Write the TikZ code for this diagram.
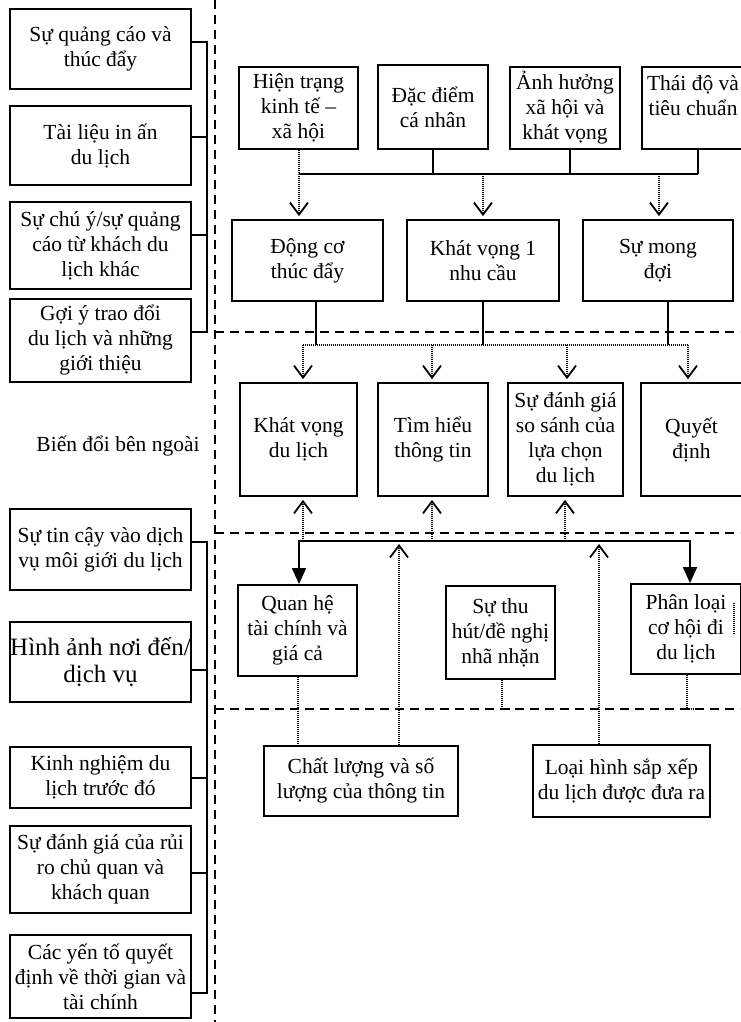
\documentclass[tikz,border=0pt]{standalone}
\usepackage{fontspec}
\setmainfont{Liberation Serif}
\usetikzlibrary{arrows.meta}
\begin{document}
\begin{tikzpicture}
[x=1pt,y=-1pt,
bx/.style 2 args={draw,line width=1.8pt,minimum width=#1,minimum height=#2,inner sep=0pt,align=center,font=\fontsize{21.5}{25}\selectfont},
ln/.style={line width=1.8pt},dt/.style={line width=1.4pt,dash pattern=on 1pt off 1pt},
ds/.style={line width=1.8pt,dash pattern=on 9pt off 6pt},
ov/.style={-{Straight Barb[length=12pt,width=18pt,line width=1.8pt]},shorten >=3pt},
tt/.style={{Triangle[length=16pt,width=14pt]}-{Triangle[length=16pt,width=14pt]}}]
\useasboundingbox (0,0) rectangle (740,1022);
% bien doi ben ngoai
\node(l1) at (100.5,49)[bx={181pt}{80pt}]{Sự quảng cáo và\\thúc đẩy};
\node(l2) at (100.5,145.5)[bx={181pt}{79pt}]{Tài liệu in ấn\\du lịch};
\node(l3) at (100.5,245.5)[bx={181pt}{87pt}]{Sự chú ý/sự quảng\\cáo từ khách du\\lịch khác};
\node(l4) at (100.5,340.5)[bx={181pt}{83pt}]{Gợi ý trao đổi\\du lịch và những\\giới thiệu};
\node(t) at (118,446)[font=\fontsize{21.5}{25}\selectfont]{Biến đổi bên ngoài};
\node(l5) at (100.5,549.5)[bx={181pt}{81pt}]{Sự tin cậy vào dịch\\vụ môi giới du lịch};
\node(l6) at (100.5,662)[bx={181pt}{80pt},font=\fontsize{25}{27}\selectfont]{Hình ảnh nơi đến/\\dịch vụ};
\node(l7) at (100.5,777.5)[bx={181pt}{61pt}]{Kinh nghiệm du\\lịch trước đó};
\node(l8) at (100.5,869.5)[bx={181pt}{87pt}]{Sự đánh giá của rủi\\ro chủ quan và\\khách quan};
\node(l9) at (100.5,976.5)[bx={181pt}{83pt}]{Các yến tố quyết\\định về thời gian và\\tài chính};
\draw[ln](l1.east|-0,42)-|(207,332)--(l4.east|-0,332);\draw[ln](l2.east|-0,137)--(207,137);\draw[ln](l3.east|-0,235)--(207,235);
\draw[ln](l5.east|-0,542)-|(207,993)--(l9.east|-0,993);\draw[ln](l6.east|-0,670)--(207,670);
\draw[ln](l7.east|-0,778)--(207,778);\draw[ln](l8.east|-0,873)--(207,873);
% vach ngan
\draw[ds](215,0)--(215,1022);\draw[ds](215,332)--(740,332);\draw[ds](215,533)--(740,533);\draw[ds](215,709)--(740,709);
% tam ly
\node(a) at (298.5,108)[bx={119pt}{82pt}]{Hiện trạng\\kinh tế –\\xã hội};
\node(b) at (433,107)[bx={110pt}{84pt}]{Đặc điểm\\cá nhân};
\node(c) at (565,108)[bx={110pt}{82pt}]{Ảnh hưởng\\xã hội và\\khát vọng};
\node(d) at (693,108)[bx={102pt}{82pt}]{Thái độ và\\tiêu chuẩn\\\mbox{}};
\node(m1) at (307.5,260.5)[bx={151pt}{81pt}]{Động cơ\\thúc đẩy};
\node(m2) at (483,260.5)[bx={152pt}{81pt}]{Khát vọng 1\\nhu cầu};
\node(m3) at (658,260.5)[bx={150pt}{81pt}]{Sự mong\\đợi};
\draw[ln](299,174)--(698,174);\draw[ln](b.south)--(b.south|-0,174);
\draw[ln](c.south-|570,0)--(570,174);\draw[ln](d.south-|698,0)--(698,174);
\draw[dt,ov](a.south-|299,0)--(m1.north-|299,0);\draw[dt,ov](483,174)--(m2.north);\draw[dt,ov](659,174)--(m3.north-|659,0);
% quyet dinh
\node(r1) at (298.5,439.5)[bx={117pt}{113pt}]{Khát vọng\\du lịch};
\node(r2) at (433,439.5)[bx={110pt}{113pt}]{Tìm hiểu\\thông tin};
\node(r3) at (565.5,439.5)[bx={115pt}{113pt}]{Sự đánh giá\\so sánh của\\lựa chọn\\du lịch};
\node(r4) at (691.5,439.5)[bx={101pt}{113pt}]{Quyết\\định};
\draw[ln](m1.south-|316,0)--(316,345);\draw[ln](m2.south)--(483,345);\draw[ln](m3.south-|668,0)--(668,345);
\draw[dt](303,345)--(688,345);
\draw[dt,ov](303,345)--(r1.north-|303,0);\draw[dt,ov](432,345)--(r2.north-|432,0);
\draw[dt,ov](567,345)--(r3.north-|567,0);\draw[dt,ov](688,345)--(r4.north-|688,0);
% hoan canh
\node(q) at (297.5,630.5)[bx={119pt}{91pt}]{Quan hệ\\tài chính và\\giá cả};
\node(s) at (500.5,632.5)[bx={109pt}{93pt}]{Sự thu\\hút/đề nghị\\nhã nhặn};
\node(p) at (686,629)[bx={110pt}{90pt}]{Phân loại\\cơ hội đi\\du lịch};
\node(cl) at (361,781)[bx={194pt}{70pt}]{Chất lượng và số\\lượng của thông tin};
\node(lh) at (621.5,781)[bx={177pt}{72pt}]{Loại hình sắp xếp\\du lịch được đưa ra};
\draw[ln,tt](q.north-|299,0)--(299,541)--(690,541)--(p.north-|690,0);
\draw[dt,ov](303,541)--(r1.south-|303,0);\draw[dt,ov](432,541)--(r2.south-|432,0);\draw[dt,ov](565,541)--(r3.south-|565,0);
\draw[dt,ov](cl.north-|399,0)--(399,541);\draw[dt,ov](lh.north-|599,0)--(599,541);
\draw[dt](q.south-|298,0)--(cl.north-|298,0);
\draw[dt](s.south-|502,0)--(502,709)--(510,709);\draw[dt](p.south-|687,0)--(687,709)--(695,709);
\draw[dt](734,603)--(734,634);
\end{tikzpicture}
\end{document}
